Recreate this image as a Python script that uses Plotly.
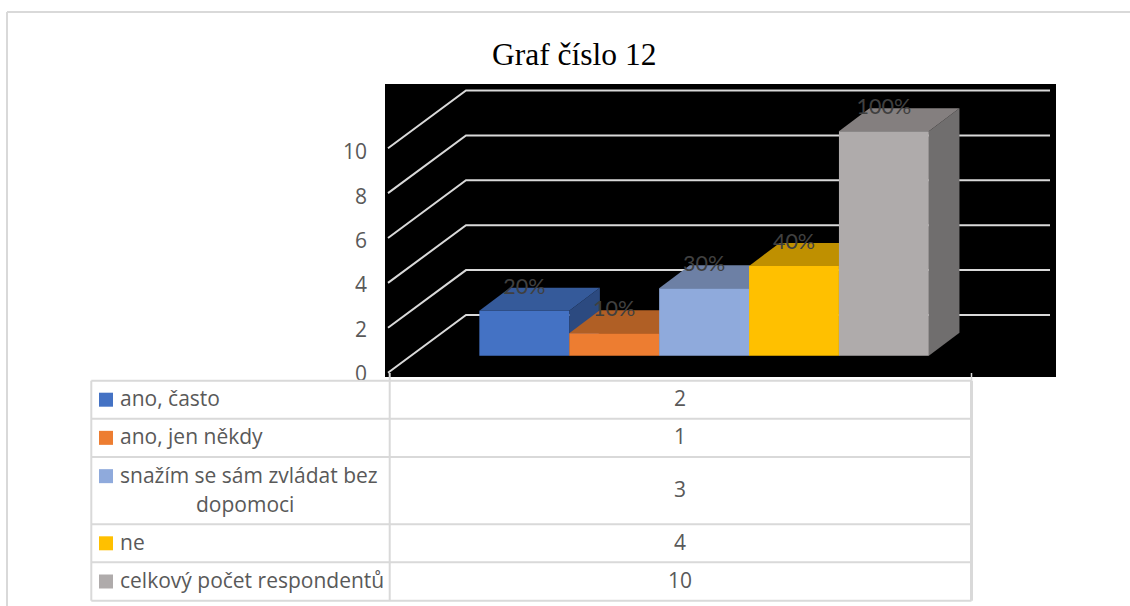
import plotly.graph_objects as go

# Survey answers, plotted as one clustered 3D-style column group with a data table below
categories = ["ano, často", "ano, jen někdy", "snažím se sám zvládat bez<br>dopomoci", "ne", "celkový počet respondentů"]
values = [2, 1, 3, 4, 10]
percents = [20, 10, 30, 40, 100]
title_text = "Graf číslo 12"
y_ticks = [0, 2, 4, 6, 8, 10]

front_colors = ["#4472C4", "#ED7D31", "#8FAADC", "#FFC000", "#AFABAB"]
top_colors = ["#355A9A", "#B05F25", "#6D80A5", "#BF9000", "#847F7F"]
side_colors = ["#2C4A80", "#8F4E1E", "#5A6E96", "#9E7800", "#706E6E"]

W, H = 1130, 606
GRID = "#D9D9D9"
TEXT = "#595959"

# Plot area in page pixels and the scale of one bar slot / one value unit
PLOT_L, PLOT_R, PLOT_T, PLOT_B = 385, 1056, 84, 377
X_UNIT, Y_UNIT = 89.9, 22.45
FIRST_BAR_PX, ZERO_PX = 524.3, 372.7

x_range = [(PLOT_L - FIRST_BAR_PX) / X_UNIT, (PLOT_R - FIRST_BAR_PX) / X_UNIT]
y_range = [(ZERO_PX - PLOT_B) / Y_UNIT, (ZERO_PX - PLOT_T) / Y_UNIT]

# Oblique projection: depth of the walls, depth of a column, gap before the columns
WALL_DX, WALL_DY = 78 / X_UNIT, 57.7 / Y_UNIT
BAR_DX, BAR_DY = 30.6 / X_UNIT, 23 / Y_UNIT
FLOOR_GAP = 17 / Y_UNIT
WALL_LEFT = (388 - FIRST_BAR_PX) / X_UNIT
WALL_RIGHT = (1050 - FIRST_BAR_PX) / X_UNIT

# The axis labels sit on a slightly tighter scale than the wall gridlines
TICK_SCALE, TICK_SHIFT = 0.989, -0.05

fig = go.Figure()

# Wall gridlines
for v in y_ticks:
    fig.add_trace(go.Scatter(
        x=[WALL_LEFT, WALL_LEFT + WALL_DX, WALL_RIGHT],
        y=[v, v + WALL_DY, v + WALL_DY],
        mode="lines", line=dict(color=GRID, width=2),
        hoverinfo="skip", showlegend=False, xaxis="x", yaxis="y",
    ))

# Top and side faces, painted left to right
for i, v in enumerate(values):
    left, right = i - 0.5, i + 0.5
    low, high = FLOOR_GAP, FLOOR_GAP + v
    fig.add_trace(go.Scatter(
        x=[right, right + BAR_DX, right + BAR_DX, right, right],
        y=[low, low + BAR_DY, high + BAR_DY, high, low],
        mode="lines", fill="toself", fillcolor=side_colors[i], line=dict(width=0),
        hoverinfo="skip", showlegend=False, xaxis="x", yaxis="y",
    ))
    fig.add_trace(go.Scatter(
        x=[left, left + BAR_DX, right + BAR_DX, right, left],
        y=[high, high + BAR_DY, high + BAR_DY, high, high],
        mode="lines", fill="toself", fillcolor=top_colors[i], line=dict(width=0),
        hoverinfo="skip", showlegend=False, xaxis="x", yaxis="y",
    ))

# Front faces on an overlaid subplot so they hide the faces of their left neighbours
fig.add_trace(go.Bar(
    x=list(range(len(values))), y=values, base=FLOOR_GAP, width=1.0,
    marker=dict(color=front_colors, line=dict(width=0)),
    hoverinfo="skip", showlegend=False, xaxis="x2", yaxis="y2",
))

# Percentage labels
fig.add_trace(go.Scatter(
    x=list(range(len(values))), y=[FLOOR_GAP + v + 1.01 for v in values],
    mode="text", text=[f"{p}%" for p in percents], textposition="middle center",
    textfont=dict(family="Lato", size=21.5, color="#404040"),
    hoverinfo="skip", showlegend=False, xaxis="x2", yaxis="y2",
))


def px(x):
    return x / W


def py(y):
    return 1 - y / H


shapes = []
annotations = []


def line(x0, y0, x1, y1, width=2):
    shapes.append(dict(type="line", xref="paper", yref="paper",
                       x0=px(x0), y0=py(y0), x1=px(x1), y1=py(y1),
                       line=dict(color=GRID, width=width)))


# Outer frame (open on the right and bottom)
line(7, 12, W, 12)
line(7, 12, 7, H)

# Data table grid
ROW_EDGES = [380.7, 418.7, 457, 524.3, 562.3, 600.7]
TABLE_L, TABLE_M, TABLE_R = 91.3, 389.7, 971.5
shapes.append(dict(type="rect", xref="paper", yref="paper", layer="above",
                   x0=px(TABLE_L), x1=px(TABLE_R), y0=py(ROW_EDGES[0]), y1=py(ROW_EDGES[-1]),
                   fillcolor="white", line=dict(width=0)))
for e in ROW_EDGES:
    line(TABLE_L, e, TABLE_R, e)
line(TABLE_L, ROW_EDGES[0], TABLE_L, ROW_EDGES[-1])
line(TABLE_M, 373, TABLE_M, ROW_EDGES[-1])
line(TABLE_R, 373, TABLE_R, ROW_EDGES[0], width=1.5)
line(TABLE_R, ROW_EDGES[0], TABLE_R, ROW_EDGES[-1], width=3)

# Table rows: legend key, label and value
TABLE_FONT = dict(family="Open Sans", size=21, color=TEXT)
TEXT_LIFT = 1.5
for i, (label, value) in enumerate(zip(categories, values)):
    top, bottom = ROW_EDGES[i], ROW_EDGES[i + 1]
    mid = (top + bottom) / 2
    parts = label.split("<br>")
    first_y = mid if len(parts) == 1 else mid - 14.5
    shapes.append(dict(type="rect", xref="paper", yref="paper", layer="above",
                       x0=px(99), x1=px(113), y0=py(first_y - 7), y1=py(first_y + 7),
                       fillcolor=front_colors[i], line=dict(width=0)))
    annotations.append(dict(text=parts[0], xref="paper", yref="paper", x=px(117.5), y=py(first_y - TEXT_LIFT),
                            xanchor="left", yanchor="middle", showarrow=False, font=TABLE_FONT))
    if len(parts) > 1:
        annotations.append(dict(text=parts[1], xref="paper", yref="paper", x=px(245),
                                y=py(first_y + 29 - TEXT_LIFT),
                                xanchor="center", yanchor="middle", showarrow=False, font=TABLE_FONT))
    annotations.append(dict(text=str(value), xref="paper", yref="paper", x=px(680), y=py(mid - TEXT_LIFT),
                            xanchor="center", yanchor="middle", showarrow=False, font=TABLE_FONT))

annotations.append(dict(text=title_text, xref="paper", yref="paper", x=px(573.5), y=py(54.5),
                        xanchor="center", yanchor="middle", showarrow=False,
                        font=dict(family="Liberation Serif", size=31.5, color="#000000")))

domain_x = [PLOT_L / W, PLOT_R / W]
domain_y = [1 - PLOT_B / H, 1 - PLOT_T / H]
hidden = dict(visible=False, fixedrange=True, automargin=False)

fig.update_layout(
    template="none",
    width=W, height=H, margin=dict(l=0, r=0, t=0, b=0, pad=0, autoexpand=False),
    paper_bgcolor="white", plot_bgcolor="black",
    xaxis=dict(domain=domain_x, range=x_range, **hidden),
    yaxis=dict(domain=domain_y, range=y_range, tickmode="array",
               tickvals=[t * TICK_SCALE + TICK_SHIFT for t in y_ticks],
               ticktext=[str(t) for t in y_ticks], showgrid=False, zeroline=False,
               showline=False, ticks="", ticklabelstandoff=17, fixedrange=True, automargin=False,
               tickfont=dict(family="Open Sans", size=21, color=TEXT)),
    xaxis2=dict(domain=domain_x, range=x_range, overlaying="x", anchor="y2", **hidden),
    yaxis2=dict(domain=domain_y, range=y_range, overlaying="y", anchor="x2", **hidden),
    shapes=shapes, annotations=annotations, showlegend=False,
)

fig.write_html("out.html", config=dict(displayModeBar=False))
